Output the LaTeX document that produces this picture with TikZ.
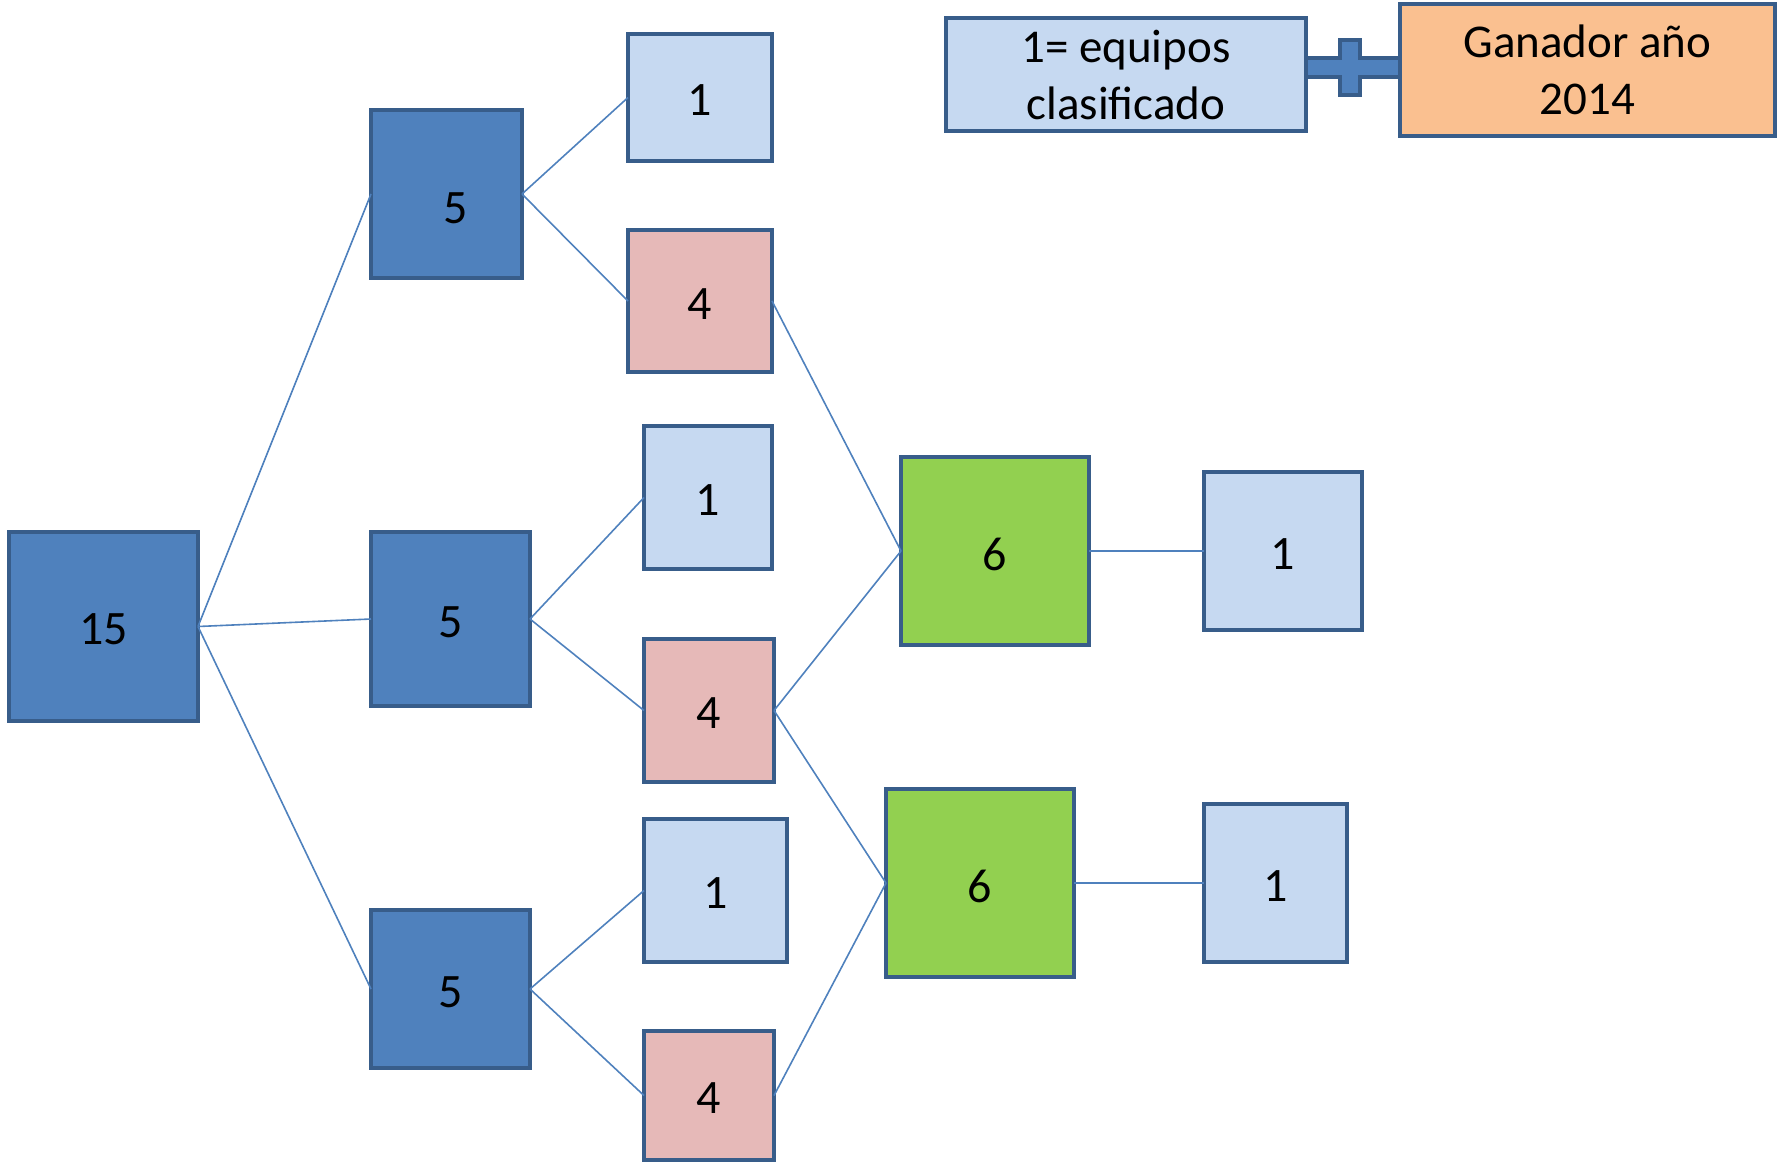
\documentclass[tikz,border=0pt]{standalone}
\usepackage{fontspec}
\setmainfont{Carlito}
\definecolor{bord}{HTML}{385D8A}
\definecolor{dblue}{HTML}{4F81BD}
\definecolor{lblue}{HTML}{C6D9F1}
\definecolor{pinkf}{HTML}{E6B9B8}
\definecolor{greenf}{HTML}{92D050}
\definecolor{orangef}{HTML}{FAC090}
\newcommand{\lw}[1]{\raisebox{-3pt}[\height][\depth]{#1}}
\tikzset{
  box/.style={draw=bord, line width=4.8pt, inner sep=0pt, outer sep=0pt, rectangle,
    font=\fontsize{48}{57}\selectfont, align=center},
  conn/.style={draw=dblue, line width=1.6pt},
}
\begin{document}
\begin{tikzpicture}[x=1pt,y=-1pt]
\useasboundingbox (0,0) rectangle (1779,1168);
% plus sign
\draw[bord, fill=dblue, line width=3.5pt, line join=miter]
  (1300,58) -- (1340,58) -- (1340,40) -- (1360,40) -- (1360,58) -- (1405,58)
  -- (1405,77) -- (1360,77) -- (1360,95) -- (1340,95) -- (1340,77) -- (1300,77) -- cycle;
% boxes
\node[box, fill=dblue, minimum width=189pt, minimum height=189pt] (n15) at (103.5,626.5) {\lw{15}};
\node[box, fill=dblue, minimum width=151pt, minimum height=168pt] (a5) at (446.5,194) {\raisebox{-14pt}[\height][\depth]{\hspace*{18pt}5}};
\node[box, fill=dblue, minimum width=159pt, minimum height=174pt] (b5) at (450.5,619) {\lw{5}};
\node[box, fill=dblue, minimum width=159pt, minimum height=158pt] (c5) at (450.5,989) {\lw{5}};
\node[box, fill=lblue, minimum width=144pt, minimum height=127pt] (a1) at (700,97.5) {\lw{1}};
\node[box, fill=pinkf, minimum width=144pt, minimum height=142pt] (a4) at (700,301) {\lw{4}};
\node[box, fill=lblue, minimum width=128pt, minimum height=143pt] (b1) at (708,497.5) {\lw{1}};
\node[box, fill=pinkf, minimum width=130pt, minimum height=143pt] (b4) at (709,710.5) {\lw{4}};
\node[box, fill=lblue, minimum width=143pt, minimum height=143pt] (c1) at (715.5,890.5) {\lw{1}};
\node[box, fill=pinkf, minimum width=130pt, minimum height=129pt] (c4) at (709,1095.5) {\lw{4}};
\node[box, fill=greenf, minimum width=188pt, minimum height=188pt] (g1) at (995,551) {\lw{6}};
\node[box, fill=greenf, minimum width=188pt, minimum height=188pt] (g2) at (980,883) {\lw{6}};
\node[box, fill=lblue, minimum width=158pt, minimum height=158pt] (r1) at (1283,551) {\lw{1}};
\node[box, fill=lblue, minimum width=143pt, minimum height=158pt] (r2) at (1275.5,883) {\lw{1}};
\node[box, fill=lblue, minimum width=360pt, minimum height=113pt, font=\fontsize{47}{57}\selectfont] (leg) at (1126,74.5) {1= equipos\\clasificado};
\node[box, fill=orangef, minimum width=375pt, minimum height=132pt, font=\fontsize{47}{57}\selectfont] (gan) at (1587.5,70) {Ganador año\\2014};
% connectors
\draw[conn] (n15.east) -- (a5.west);
\draw[conn] (n15.east) -- (b5.west);
\draw[conn] (n15.east) -- (c5.west);
\draw[conn] (a5.east) -- (a1.west);
\draw[conn] (a5.east) -- (a4.west);
\draw[conn] (b5.east) -- (b1.west);
\draw[conn] (b5.east) -- (b4.west);
\draw[conn] (c5.east) -- (c1.west);
\draw[conn] (c5.east) -- (c4.west);
\draw[conn] (a4.east) -- (g1.west);
\draw[conn] (b4.east) -- (g1.west);
\draw[conn] (b4.east) -- (g2.west);
\draw[conn] (c4.east) -- (g2.west);
\draw[conn] (g1.east) -- (r1.west);
\draw[conn] (g2.east) -- (r2.west);
\end{tikzpicture}
\end{document}
